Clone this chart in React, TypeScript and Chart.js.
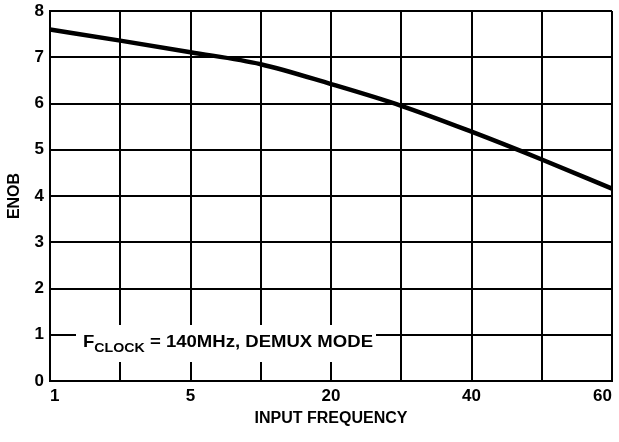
import React, { useEffect, useRef } from "react";
import { Chart, registerables } from "chart.js";

Chart.register(...registerables);

const categories = ["1", "", "5", "", "20", "", "40", "", "60"];
const enob = [7.6, 7.36, 7.11, 6.85, 6.42, 5.95, 5.39, 4.79, 4.16];
const yTicks = [0, 1, 2, 3, 4, 5, 6, 7, 8];
const noteMain = "F";
const noteSub = "CLOCK";
const noteRest = " = 140MHz, DEMUX MODE";

const FONT = "'Liberation Sans', Arial, Helvetica, sans-serif";

const notePlugin = {
  id: "note",
  afterDatasetsDraw(chart: any) {
    const { ctx, chartArea } = chart;
    const x0 = chartArea.left + 26;
    const x1 = chartArea.left + 326;
    const yTop = chartArea.bottom - 56;
    const yBot = chartArea.bottom - 19;
    ctx.save();
    ctx.fillStyle = "#ffffff";
    ctx.fillRect(x0, yTop, x1 - x0, yBot - yTop);
    ctx.fillStyle = "#000000";
    ctx.textBaseline = "alphabetic";
    ctx.textAlign = "left";
    const big = `bold 17px ${FONT}`;
    const small = `bold 13px ${FONT}`;
    ctx.font = big;
    const wF = ctx.measureText(noteMain).width;
    const wR = ctx.measureText(noteRest).width;
    ctx.font = small;
    const wS = ctx.measureText(noteSub).width;
    const natural = wF + wS + wR;
    const target = 290;
    const sx = target / natural;
    const startX = chartArea.left + 33;
    const base = chartArea.bottom - 34;
    ctx.translate(startX, 0);
    ctx.scale(sx, 1);
    ctx.font = big;
    ctx.fillText(noteMain, 0, base);
    ctx.font = small;
    ctx.fillText(noteSub, wF, base + 5);
    ctx.font = big;
    ctx.fillText(noteRest, wF + wS, base);
    ctx.restore();
  },
};

export default function App() {
  const ref = useRef<HTMLCanvasElement | null>(null);
  useEffect(() => {
    if (!ref.current) return;
    const chart = new Chart(ref.current, {
      type: "line",
      data: {
        labels: categories,
        datasets: [
          {
            data: enob,
            borderColor: "#000000",
            borderWidth: 4.5,
            pointRadius: 0,
            tension: 0.25,
            cubicInterpolationMode: "monotone",
            fill: false,
          },
        ],
      },
      options: {
        animation: false,
        responsive: true,
        maintainAspectRatio: false,
        layout: { padding: { left: 0, right: 7, top: 11, bottom: 0 } },
        plugins: { legend: { display: false }, tooltip: { enabled: false } },
        scales: {
          x: {
            type: "category",
            offset: false,
            grid: { color: "#000000", lineWidth: 2, drawTicks: false },
            border: { color: "#000000", width: 2 },
            ticks: {
              autoSkip: false,
              maxRotation: 0,
              align: "inner",
              padding: 5,
              color: "#000000",
              font: { family: FONT, size: 17, weight: "bold" },
            },
            title: {
              display: true,
              text: "INPUT FREQUENCY",
              color: "#000000",
              font: { family: FONT, size: 16, weight: "bold" },
              padding: { top: 0, bottom: 14 },
            },
            afterFit(scale: any) {
              scale.height = 61;
              scale.paddingLeft = 0;
              scale.paddingRight = 0;
            },
          },
          y: {
            min: 0,
            max: 8,
            afterBuildTicks(scale: any) {
              scale.ticks = yTicks.map((v) => ({ value: v }));
            },
            grid: { color: "#000000", lineWidth: 2, drawTicks: false },
            border: { color: "#000000", width: 2 },
            ticks: {
              padding: 6,
              color: "#000000",
              font: { family: FONT, size: 17, weight: "bold" },
            },
            title: {
              display: true,
              text: "ENOB",
              color: "#000000",
              font: { family: FONT, size: 16, weight: "bold" },
              padding: { top: 5, bottom: 0 },
            },
            afterFit(scale: any) {
              scale.width = 50;
              scale.paddingTop = 0;
              scale.paddingBottom = 0;
            },
          },
        },
      },
      plugins: [notePlugin],
    });
    return () => chart.destroy();
  }, []);
  return (
    <div style={{ position: "absolute", left: 0, top: 0, width: 619, height: 442, background: "#fff" }}>
      <canvas ref={ref} />
    </div>
  );
}
